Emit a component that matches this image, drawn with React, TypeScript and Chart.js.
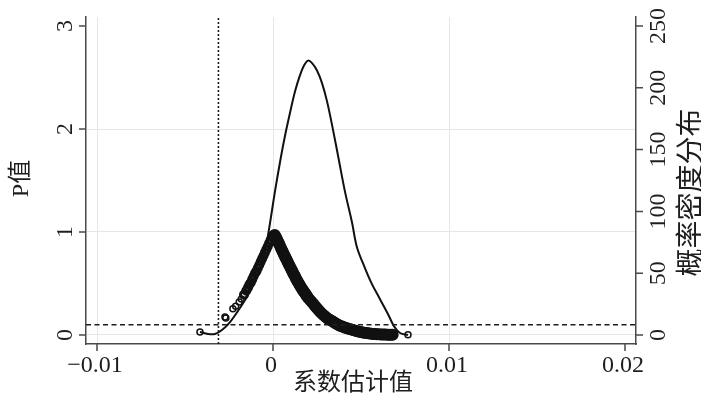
import React, { useEffect, useRef } from "react";
import { Chart, registerables } from "chart.js";

Chart.register(...registerables);

// ---- axis ranges & ticks ----
const X_TICKS = [-0.01, 0, 0.01, 0.02];
const X_TICK_LABELS = ["\u22120.01", "0", "0.01", "0.02"];
const Y_TICKS = [0, 1, 2, 3];
const Y_TICK_LABELS = ["0", "1", "2", "3"];
const Y2_TICKS = [0, 50, 100, 150, 200, 250];
const Y2_TICK_LABELS = ["0", "50", "100", "150", "200", "250"];
const X_MIN = -0.010625;
const X_MAX = 0.020625;
const Y_MIN = -0.0874;
const Y_MAX = 3.0874;
const Y2_MIN = -7.28;
const Y2_MAX = 257.28;

const X_TITLE = "系数估计值";
const Y_TITLE = "P值";
const Y2_TITLE = "概率密度分布";

// reference lines
const VLINE_X = -0.0031;
const HLINE_P = 0.1;

// ---- kernel density of coefficient estimates (right axis) ----
const DENS_X = [
  -0.00415, -0.00369, -0.0033, -0.0029, -0.00244, -0.00199, -0.00148, -0.00102,
  -0.00068, -0.00045, -0.00028, -0.00011, 0.00011, 0.0004, 0.00068, 0.00097,
  0.00125, 0.00153, 0.00176, 0.00199, 0.00222, 0.0025, 0.00278, 0.00307,
  0.00341, 0.00375, 0.00409, 0.00449, 0.00477, 0.00523, 0.00563, 0.00608,
  0.00653, 0.00688, 0.00722, 0.00767,
];
const DENS_Y = [
  2.4, 0.8, 0.8, 4, 10.5, 19.5, 31, 44,
  57, 69, 81, 96, 116, 140, 161, 180,
  197, 210, 218, 222, 220, 214, 204, 189,
  166, 141, 116, 91, 71, 54, 41, 29,
  17, 7, 1.6, 0,
];

// ---- P values of placebo estimates (left axis) ----
// isolated circles on the far left
const PS_X = [-0.00415, -0.00273, -0.00268, -0.00228, -0.00212, -0.00192, -0.0018];
const PS_P = [0.03, 0.175, 0.165, 0.255, 0.28, 0.32, 0.35];
// left flank band
const PL_X = [
  -0.00165, -0.00152, -0.00142, -0.00134, -0.00126, -0.00118, -0.0011, -0.00102,
  -0.00094, -0.00086, -0.00078, -0.0007, -0.00062, -0.00054, -0.00046, -0.00038,
  -0.0003, -0.00022, -0.00014, -0.00006, 0.00002,
];
const PL_P = [
  0.39, 0.43, 0.46, 0.49, 0.51, 0.54, 0.57, 0.6,
  0.62, 0.65, 0.68, 0.71, 0.74, 0.77, 0.8, 0.83,
  0.86, 0.89, 0.92, 0.95, 0.97,
];
// right flank (dense band)
const PR_X = [
  0.0001, 0.00015, 0.0002, 0.00025, 0.0003, 0.00035, 0.0004, 0.00045, 0.0005, 0.00055,
  0.0006, 0.00065, 0.0007, 0.00075, 0.0008, 0.00085, 0.0009, 0.00095, 0.001, 0.00105,
  0.0011, 0.00115, 0.0012, 0.00125, 0.0013, 0.00135, 0.0014, 0.00145, 0.0015, 0.00155,
  0.0016, 0.00165, 0.0017, 0.00175, 0.0018, 0.00185, 0.0019, 0.00195, 0.002, 0.0021,
  0.0022, 0.0023, 0.0024, 0.0025, 0.0026, 0.0027, 0.0028, 0.0029, 0.003, 0.0031,
  0.0032, 0.0033, 0.0034, 0.0035, 0.0036, 0.0037, 0.0038, 0.0039, 0.004, 0.0041,
  0.0042, 0.0043, 0.0044, 0.0045, 0.0046, 0.0047, 0.0048, 0.0049, 0.005, 0.0051,
  0.0052, 0.0053, 0.0054, 0.0055, 0.0056, 0.0057, 0.0058, 0.0059, 0.006, 0.0061,
  0.0062, 0.0063, 0.0064, 0.0065, 0.0066, 0.0067, 0.0068,
];
const PR_P = [
  0.97, 0.955, 0.94, 0.92, 0.9, 0.885, 0.865, 0.845, 0.825, 0.81,
  0.79, 0.775, 0.755, 0.74, 0.72, 0.705, 0.685, 0.67, 0.65, 0.635,
  0.62, 0.6, 0.585, 0.57, 0.55, 0.535, 0.52, 0.505, 0.49, 0.475,
  0.46, 0.448, 0.435, 0.422, 0.41, 0.397, 0.385, 0.372, 0.36, 0.34,
  0.32, 0.3, 0.28, 0.26, 0.24, 0.22, 0.205, 0.19, 0.175, 0.16,
  0.15, 0.14, 0.13, 0.12, 0.11, 0.1, 0.09, 0.084, 0.078, 0.071,
  0.065, 0.06, 0.055, 0.05, 0.045, 0.04, 0.036, 0.032, 0.028, 0.025,
  0.022, 0.019, 0.016, 0.014, 0.012, 0.01, 0.009, 0.008, 0.007, 0.006,
  0.005, 0.0045, 0.004, 0.0035, 0.003, 0.0025, 0.002,
];
// far-right extreme estimate
const PE_X = [0.00767];
const PE_P = [0.002];

const FONT_LATIN = '"Liberation Serif", "Times New Roman", "Noto Sans CJK SC", serif';
const FONT_CJK = '"Noto Sans CJK SC", "Liberation Serif", sans-serif';
const INK = "#1e1e1e";
const AXIS = "#4a4a4a";
const GRID = "#e6e6e6";

const labelPlugin = {
  id: "stataLabels",
  afterDraw(chart: any) {
    const ctx = chart.ctx as CanvasRenderingContext2D;
    const area = chart.chartArea;
    const sx = chart.scales.x;
    const sy = chart.scales.y;
    const sy2 = chart.scales.y2;
    ctx.save();
    // tick marks
    ctx.strokeStyle = AXIS;
    ctx.lineWidth = 1.5;
    ctx.beginPath();
    X_TICKS.forEach((v) => {
      const px = sx.getPixelForValue(v);
      ctx.moveTo(px, area.bottom);
      ctx.lineTo(px, area.bottom + 7);
    });
    Y_TICKS.forEach((v) => {
      const py = sy.getPixelForValue(v);
      ctx.moveTo(area.left, py);
      ctx.lineTo(area.left - 7, py);
    });
    Y2_TICKS.forEach((v) => {
      const py = sy2.getPixelForValue(v);
      ctx.moveTo(area.right, py);
      ctx.lineTo(area.right + 7, py);
    });
    ctx.stroke();

    ctx.fillStyle = INK;
    ctx.font = `24px ${FONT_LATIN}`;
    ctx.textAlign = "center";
    ctx.textBaseline = "alphabetic";
    X_TICKS.forEach((v, i) => {
      ctx.fillText(X_TICK_LABELS[i], sx.getPixelForValue(v) - 2, area.bottom + 28);
    });
    Y_TICKS.forEach((v, i) => {
      ctx.save();
      ctx.translate(area.left - 14, sy.getPixelForValue(v));
      ctx.rotate(-Math.PI / 2);
      ctx.fillText(Y_TICK_LABELS[i], 0, 0);
      ctx.restore();
    });
    Y2_TICKS.forEach((v, i) => {
      ctx.save();
      ctx.translate(area.right + 29, sy2.getPixelForValue(v));
      ctx.rotate(-Math.PI / 2);
      ctx.fillText(Y2_TICK_LABELS[i], 0, 0);
      ctx.restore();
    });

    // titles
    ctx.textBaseline = "middle";
    ctx.font = `24px ${FONT_CJK}`;
    ctx.fillText(X_TITLE, (area.left + area.right) / 2 - 8, area.bottom + 37);

    ctx.save();
    ctx.font = `24px ${FONT_LATIN}`;
    ctx.translate(22, (area.top + area.bottom) / 2 - 2);
    ctx.rotate(-Math.PI / 2);
    ctx.fillText(Y_TITLE, 0, 0);
    ctx.restore();

    ctx.save();
    ctx.font = `28px ${FONT_CJK}`;
    ctx.translate(689, (area.top + area.bottom) / 2 + 12);
    ctx.rotate(-Math.PI / 2);
    ctx.fillText(Y2_TITLE, 0, 0);
    ctx.restore();

    ctx.restore();
  },
};

const circleSet = (label: string, xs: number[], ps: number[], r: number, bw: number) => ({
  label,
  data: xs.map((x, i) => ({ x, y: ps[i] })),
  yAxisID: "y",
  pointRadius: r,
  borderWidth: bw,
  borderColor: "#111",
  backgroundColor: "rgba(0,0,0,0)",
});

export default function App() {
  const ref = useRef<HTMLCanvasElement | null>(null);

  useEffect(() => {
    document.body.style.margin = "0";
    const canvas = ref.current;
    if (!canvas) return;

    const chart = new Chart(canvas, {
      type: "scatter",
      data: {
        datasets: [
          {
            type: "line",
            label: "vline",
            data: [
              { x: VLINE_X, y: Y_MIN },
              { x: VLINE_X, y: Y_MAX },
            ],
            yAxisID: "y",
            borderColor: INK,
            borderWidth: 1.6,
            borderDash: [2, 2],
            pointRadius: 0,
            fill: false,
          },
          {
            type: "line",
            label: "hline",
            data: [
              { x: X_MIN, y: HLINE_P },
              { x: X_MAX, y: HLINE_P },
            ],
            yAxisID: "y",
            borderColor: INK,
            borderWidth: 1.5,
            borderDash: [5, 3.5],
            pointRadius: 0,
            fill: false,
          },
          {
            type: "line",
            label: "density",
            data: DENS_X.map((x, i) => ({ x, y: DENS_Y[i] })),
            yAxisID: "y2",
            borderColor: "#111",
            borderWidth: 2,
            pointRadius: 0,
            tension: 0.35,
            fill: false,
          },
          circleSet("pSparse", PS_X, PS_P, 3, 1.5),
          circleSet("pLeft", PL_X, PL_P, 3.5, 3),
          circleSet("pRight", PR_X, PR_P, 4.2, 3.6),
          circleSet("pExtreme", PE_X, PE_P, 3, 1.5),
        ],
      },
      options: {
        responsive: false,
        animation: false,
        events: [],
        layout: { padding: { left: 86, right: 65, top: 17, bottom: 49 } },
        plugins: {
          legend: { display: false },
          tooltip: { enabled: false },
        },
        scales: {
          x: {
            type: "linear",
            min: X_MIN,
            max: X_MAX,
            afterBuildTicks: (s: any) => {
              s.ticks = X_TICKS.map((v) => ({ value: v }));
            },
            ticks: { display: false },
            grid: {
              drawTicks: false,
              lineWidth: 1,
              color: (c: any) =>
                c.tick && c.tick.value === 0.02 ? "rgba(0,0,0,0)" : GRID,
            },
            border: { display: true, color: AXIS, width: 1.5 },
          },
          y: {
            type: "linear",
            position: "left",
            min: Y_MIN,
            max: Y_MAX,
            afterBuildTicks: (s: any) => {
              s.ticks = Y_TICKS.map((v) => ({ value: v }));
            },
            ticks: { display: false },
            grid: {
              drawTicks: false,
              lineWidth: 1,
              color: (c: any) =>
                c.tick && c.tick.value === 3 ? "rgba(0,0,0,0)" : GRID,
            },
            border: { display: true, color: AXIS, width: 1.5 },
          },
          y2: {
            type: "linear",
            position: "right",
            min: Y2_MIN,
            max: Y2_MAX,
            afterBuildTicks: (s: any) => {
              s.ticks = Y2_TICKS.map((v) => ({ value: v }));
            },
            ticks: { display: false },
            grid: { drawTicks: false, drawOnChartArea: false },
            border: { display: true, color: AXIS, width: 1.5 },
          },
        },
      },
      plugins: [labelPlugin],
    } as any);

    let alive = true;
    const fonts: any = (document as any).fonts;
    if (fonts && fonts.load) {
      Promise.all([
        fonts.load('24px "Liberation Serif"'),
        fonts.load('24px "Noto Sans CJK SC"', "系数估计值概率密度分布"),
      ])
        .catch(() => null)
        .then(() => {
          if (alive) chart.update();
        });
    }

    return () => {
      alive = false;
      chart.destroy();
    };
  }, []);

  return (
    <div style={{ width: 701, height: 393, background: "#fff" }}>
      <canvas ref={ref} width={701} height={393} style={{ display: "block" }} />
    </div>
  );
}
